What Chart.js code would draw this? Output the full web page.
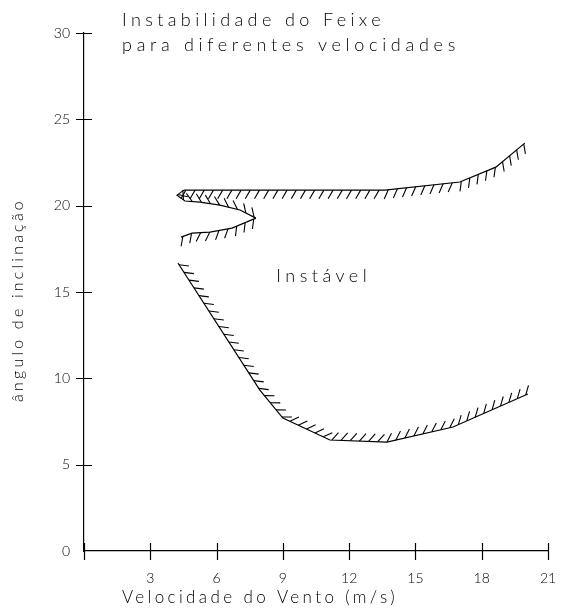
<!DOCTYPE html>
<html>
<head>
<meta charset="utf-8">
<title>Instabilidade do Feixe</title>
<script src="https://cdn.jsdelivr.net/npm/chart.js@4.4.1/dist/chart.umd.min.js"></script>
<style>
  html, body { margin: 0; padding: 0; background: #fff; }
  #wrap { width: 562px; height: 611px; }
</style>
</head>
<body>
<div id="wrap"><canvas id="chart"></canvas></div>
<script>
// values: wind speed (m/s) vs inclination angle (deg)
const lowerX = [4.25, 7.96, 9.0, 11.13, 13.71, 16.70, 20.09];
const lowerY = [16.68, 9.32, 7.70, 6.43, 6.31, 7.18, 9.09];

const topX = [4.52, 13.62, 17.01, 18.64, 19.95];
const topY = [20.90, 20.90, 21.37, 22.23, 23.62];

const noseLowX = [4.39, 4.89, 5.70, 6.70, 7.78];
const noseLowY = [18.18, 18.41, 18.47, 18.70, 19.28];

const noseHighX = [7.78, 7.06, 6.15, 5.25, 4.57, 4.21, 4.52];
const noseHighY = [19.28, 19.75, 20.03, 20.21, 20.27, 20.61, 20.90];

const xTicks = [0, 3, 6, 9, 12, 15, 18, 21];
const yTicks = [0, 5, 10, 15, 20, 25, 30];

const titleLines = ['Instabilidade do Feixe', 'para diferentes velocidades'];
const regionLabel = 'Instável';
const regionLabelAt = [8.7, 15.9];
const xTitle = 'Velocidade do Vento (m/s)';
const yTitle = 'ângulo de inclinação';

const FONT = '"Lato", "DejaVu Sans", sans-serif';

const toPoints = (xs, ys) => xs.map((x, i) => ({ x: x, y: ys[i] }));

// text with letter spacing stretched to a given width
function spacedText(ctx, text, x, y, size, width) {
    ctx.font = '300 ' + size + 'px ' + FONT;
    ctx.letterSpacing = '0px';
    const w0 = ctx.measureText(text).width;
    const sp = Math.max(0, (width - w0) / text.length);
    ctx.letterSpacing = sp + 'px';
    ctx.fillText(text, x, y);
    ctx.letterSpacing = '0px';
}

// little slanted strokes along each curve, turned by hatchAngle from the line direction
const hatchPlugin = {
    id: 'hatch',
    afterDatasetsDraw(chart) {
        const ctx = chart.ctx;
        chart.data.datasets.forEach((ds, i) => {
            const pts = chart.getDatasetMeta(i).data;
            const rot = ds.hatchAngle * Math.PI / 180;
            const step = 9.2, len = 10;
            ctx.save();
            ctx.strokeStyle = '#000';
            ctx.lineWidth = 1.1;
            ctx.beginPath();
            let carry = 2;
            for (let k = 1; k < pts.length; k++) {
                const a = pts[k - 1], b = pts[k];
                const dx = b.x - a.x, dy = b.y - a.y;
                const seg = Math.hypot(dx, dy);
                const ang = Math.atan2(dy, dx) + rot;
                const hx = Math.cos(ang) * len, hy = Math.sin(ang) * len;
                let d = carry;
                while (d <= seg) {
                    const px = a.x + dx * d / seg, py = a.y + dy * d / seg;
                    ctx.moveTo(px, py);
                    ctx.lineTo(px + hx, py + hy);
                    d += step;
                }
                carry = d - seg;
            }
            ctx.stroke();
            ctx.restore();
        });
    }
};

// tick crosses on the axes plus the free text of the drawing
const decorPlugin = {
    id: 'decor',
    afterDraw(chart) {
        const ctx = chart.ctx;
        const xs = chart.scales.x, ys = chart.scales.y;
        const area = chart.chartArea;
        ctx.save();
        ctx.strokeStyle = '#000';
        ctx.lineWidth = 1.2;
        ctx.beginPath();
        xTicks.forEach(v => {
            const px = Math.round(xs.getPixelForValue(v)) + 0.5;
            ctx.moveTo(px, area.bottom - 8);
            ctx.lineTo(px, area.bottom + 9);
        });
        yTicks.forEach(v => {
            if (v === 0) return;
            const py = Math.round(ys.getPixelForValue(v)) + 0.5;
            ctx.moveTo(area.left - 8, py);
            ctx.lineTo(area.left + 8, py);
        });
        ctx.stroke();

        ctx.fillStyle = '#000';
        ctx.textAlign = 'left';
        ctx.textBaseline = 'middle';
        spacedText(ctx, titleLines[0], 122, 20, 18, 263);
        spacedText(ctx, titleLines[1], 122, 45, 18, 338);
        spacedText(ctx, regionLabel, xs.getPixelForValue(regionLabelAt[0]),
            ys.getPixelForValue(regionLabelAt[1]), 18, 95);
        spacedText(ctx, xTitle, 122, 598, 17, 276);

        ctx.translate(18, 300);
        ctx.rotate(-Math.PI / 2);
        ctx.textAlign = 'center';
        spacedText(ctx, yTitle, 0, 0, 16, 204);
        ctx.restore();
    }
};

const lineStyle = {
    showLine: true,
    borderColor: '#000',
    borderWidth: 1.2,
    pointRadius: 0,
    tension: 0,
    fill: false
};

new Chart(document.getElementById('chart'), {
    type: 'scatter',
    data: {
        datasets: [
            { label: 'limite inferior', data: toPoints(lowerX, lowerY), hatchAngle: -50, ...lineStyle },
            { label: 'limite superior', data: toPoints(topX, topY), hatchAngle: 120, ...lineStyle },
            { label: 'bico inferior', data: toPoints(noseLowX, noseLowY), hatchAngle: 120, ...lineStyle },
            { label: 'bico superior', data: toPoints(noseHighX, noseHighY), hatchAngle: 50, ...lineStyle }
        ]
    },
    options: {
        responsive: true,
        maintainAspectRatio: false,
        animation: false,
        layout: { padding: { left: 0, right: 14, top: 33, bottom: 0 } },
        plugins: {
            legend: { display: false },
            tooltip: { enabled: false }
        },
        scales: {
            x: {
                type: 'linear',
                min: 0,
                max: 21,
                afterFit: scale => {
                    scale.height = 60;
                    scale.paddingLeft = 0;
                    scale.paddingRight = 0;
                },
                afterBuildTicks: scale => { scale.ticks = xTicks.map(v => ({ value: v })); },
                ticks: {
                    color: '#000',
                    padding: 19,
                    maxRotation: 0,
                    font: { family: FONT, size: 14, weight: 300 },
                    callback: v => (v === 0 ? '' : v)
                },
                grid: { display: false, drawTicks: false },
                border: { display: true, color: '#000', width: 1.2 }
            },
            y: {
                type: 'linear',
                min: 0,
                max: 30,
                afterFit: scale => {
                    scale.width = 84;
                    scale.paddingTop = 0;
                    scale.paddingBottom = 0;
                },
                afterBuildTicks: scale => { scale.ticks = yTicks.map(v => ({ value: v })); },
                ticks: {
                    color: '#000',
                    padding: 14,
                    font: { family: FONT, size: 14, weight: 300 }
                },
                grid: { display: false, drawTicks: false },
                border: { display: true, color: '#000', width: 1.2 }
            }
        }
    },
    plugins: [hatchPlugin, decorPlugin]
});
</script>
</body>
</html>
